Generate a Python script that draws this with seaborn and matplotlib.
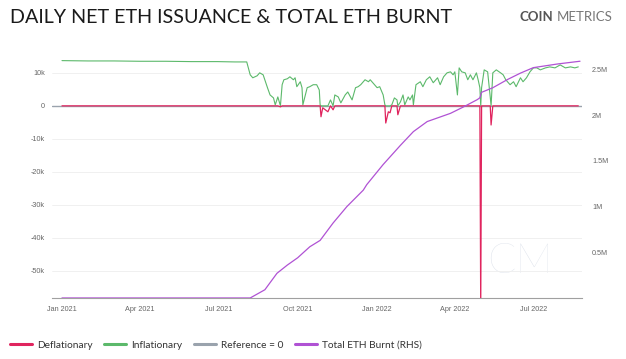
import pandas as pd
import numpy as np
import matplotlib.pyplot as plt
import seaborn as sns
from matplotlib.lines import Line2D
import matplotlib.ticker as mticker
import matplotlib.dates as mdates

# ================= Data =================
START = pd.Timestamp("2021-01-01")

# daily net issuance, days since 2021-01-01 and thousands of ETH
ISSUANCE_DAY = [0, 30, 60, 90, 120, 150, 180, 200, 214,
                218, 221, 226, 229, 233, 238, 241, 245, 247, 250, 253, 255, 257, 261, 264,
                268, 270, 272, 276, 278, 279, 284, 287, 291, 295, 298, 299, 300, 302, 305,
                308, 311, 314, 316, 320, 323, 328, 331, 336, 340, 343, 346, 351, 355, 357,
                360, 365, 368, 372, 374, 375, 378, 380, 382, 385, 388, 389, 392, 395, 397,
                401, 403, 406, 407, 410, 415, 418, 422, 426, 430, 435, 438, 442, 446, 450,
                453, 455, 458, 460, 463, 467, 470, 473, 476, 480, 482, 484, 485, 486, 489,
                493, 496, 497, 499, 503, 508, 511, 514, 519, 523, 526, 531, 534, 538, 542,
                546, 550, 554, 560, 565, 571, 577, 583, 589, 594, 598]
ISSUANCE_K = [13.7, 13.6, 13.6, 13.5, 13.5, 13.4, 13.4, 13.3, 13.3,
              9.4, 8.5, 9.1, 10.0, 9.4, 5.5, 3.3, 2.4, 0.3, 2.7, -0.3, 6.4, 7.9, 8.2, 8.8,
              7.9, 8.5, 5.8, 7.3, 5.5, 0.3, 5.5, 5.8, 6.4, 6.4, 4.8, 0.3, -3.3, -0.6, -1.2,
              -1.8, 1.8, -1.2, 3.3, 2.7, 0.9, 3.3, 4.2, 1.8, 5.5, 5.8, 6.4, 7.9, 7.3, 7.9,
              7.0, 5.5, 5.8, 3.3, 0.3, -5.2, -1.8, -2.1, 0.3, 2.4, 1.8, -2.7, 1.2, 3.3, 0.3,
              2.7, 1.8, 3.3, 0.3, 6.4, 7.3, 5.8, 7.9, 8.8, 7.0, 8.5, 6.4, 8.8, 10.0, 10.3,
              9.4, 10.3, 3.3, 11.5, 10.3, 10.0, 7.9, 9.4, 7.9, 10.0, 7.9, 5.5, -62.0, 5.5, 10.9,
              10.3, 2.7, -5.8, 10.0, 10.9, 10.0, 9.4, 7.9, 6.4, 7.3, 5.8, 8.5, 7.3, 8.5, 10.3,
              11.5, 11.5, 10.9, 11.5, 11.8, 11.5, 12.4, 11.5, 11.8, 11.5, 11.8]

# cumulative ETH burnt, millions of ETH
BURNT_DAY = [0, 100, 216, 218, 235, 249, 261, 273, 287, 299, 314, 330, 349, 353, 372,
             392, 407, 423, 450, 465, 481, 484, 486, 499, 516, 531, 546, 574, 600]
BURNT_M = [0, 0, 0, 0.0, 0.09, 0.27, 0.36, 0.44, 0.56, 0.63, 0.82, 1.00, 1.18, 1.24, 1.46,
           1.67, 1.82, 1.93, 2.02, 2.09, 2.17, 2.19, 2.25, 2.30, 2.39, 2.46, 2.52, 2.56, 2.59]

LEFT_TICKS = [10, 0, -10, -20, -30, -40, -50]
RIGHT_TICKS = [0.5, 1.0, 1.5, 2.0, 2.5]

# ================= Colours =================
RED = "#e0245e"
GREEN = "#5cb96b"
GREY = "#9aa3ad"
PURPLE = "#b052d4"

df_iss = pd.DataFrame({
    "date": START + pd.to_timedelta(ISSUANCE_DAY, unit="D"),
    "net": np.array(ISSUANCE_K) * 1000,
})
df_iss["infl"] = df_iss["net"].clip(lower=0)
df_iss["defl"] = df_iss["net"].clip(upper=0)
df_burn = pd.DataFrame({
    "date": START + pd.to_timedelta(BURNT_DAY, unit="D"),
    "burnt": np.array(BURNT_M) * 1e6,
})

sns.set_style("white")
plt.rcParams["font.family"] = ["Lato", "DejaVu Sans"]

fig = plt.figure(figsize=(6.26, 3.59), dpi=100)
ax = fig.add_axes([0.083, 0.170, 0.847, 0.663])
ax2 = ax.twinx()

# left axis: issuance
ax.axhline(0, color=GREY, lw=1.0, zorder=1)
sns.lineplot(data=df_iss, x="date", y="infl", ax=ax, color=GREEN, lw=0.8, zorder=2)
sns.lineplot(data=df_iss, x="date", y="defl", ax=ax, color=RED, lw=0.9, zorder=3)

# right axis: cumulative burn
sns.lineplot(data=df_burn, x="date", y="burnt", ax=ax2, color=PURPLE, lw=0.9, zorder=4)

ax.set_xlim(START - pd.Timedelta(days=11.6), START + pd.Timedelta(days=602.5))
ax.set_ylim(-58200, 13900)
ax2.set_ylim(0, 2.604e6)

ax.set_yticks([v * 1000 for v in LEFT_TICKS])
ax.yaxis.set_major_formatter(mticker.FuncFormatter(lambda v, p: "0" if v == 0 else f"{v/1000:.0f}k"))
ax2.set_yticks([v * 1e6 for v in RIGHT_TICKS])
ax2.yaxis.set_major_formatter(mticker.FuncFormatter(lambda v, p: f"{v/1e6:g}M"))

ax.xaxis.set_major_locator(mdates.MonthLocator(bymonth=[1, 4, 7, 10]))
ax.xaxis.set_major_formatter(mdates.DateFormatter("%b %Y"))

for a in (ax, ax2):
    a.set_xlabel("")
    a.set_ylabel("")
    for s in a.spines.values():
        s.set_visible(False)
    a.tick_params(length=0, labelsize=5.2, colors="#666666", labelfontfamily="Liberation Sans")
ax.spines["bottom"].set_visible(True)
ax.spines["bottom"].set_color("#a0a0a0")
ax.spines["bottom"].set_linewidth(0.8)
ax.tick_params(axis="x", pad=6)
ax.tick_params(axis="y", pad=5)
ax2.tick_params(axis="y", pad=7)

ax.grid(axis="y", color="#eeeeee", lw=0.6)
ax.grid(axis="x", visible=False)
ax2.grid(False)

# faint CM watermark
ax.text(0.883, 0.15, "CM", transform=ax.transAxes, fontsize=30, fontweight="light",
        color="#dce1ea", ha="center", va="center", zorder=0)

# title and logo
fig.text(0.016, 0.951, "DAILY NET ETH ISSUANCE & TOTAL ETH BURNT", fontsize=14.2,
         color="#1a1a1a", ha="left", va="center")
fig.text(0.830, 0.953, "COIN", fontsize=9.5, fontweight="bold", color="#555555",
         ha="left", va="center")
fig.text(0.889, 0.953, "METRICS", fontsize=9.5, color="#777777",
         ha="left", va="center")

handles = [
    Line2D([], [], color=RED, lw=2.2),
    Line2D([], [], color=GREEN, lw=2.2),
    Line2D([], [], color=GREY, lw=2.2),
    Line2D([], [], color=PURPLE, lw=2.2),
]
labels = ["Deflationary", "Inflationary", "Reference = 0", "Total ETH Burnt (RHS)"]
fig.legend(handles, labels, loc="center left", bbox_to_anchor=(0.016, 0.039), ncol=4,
           frameon=False, fontsize=7.3, handlelength=2.15, handletextpad=0.5,
           columnspacing=1.15, labelcolor="#333333", borderpad=0, borderaxespad=0)

fig.savefig("out.png", dpi=100)
